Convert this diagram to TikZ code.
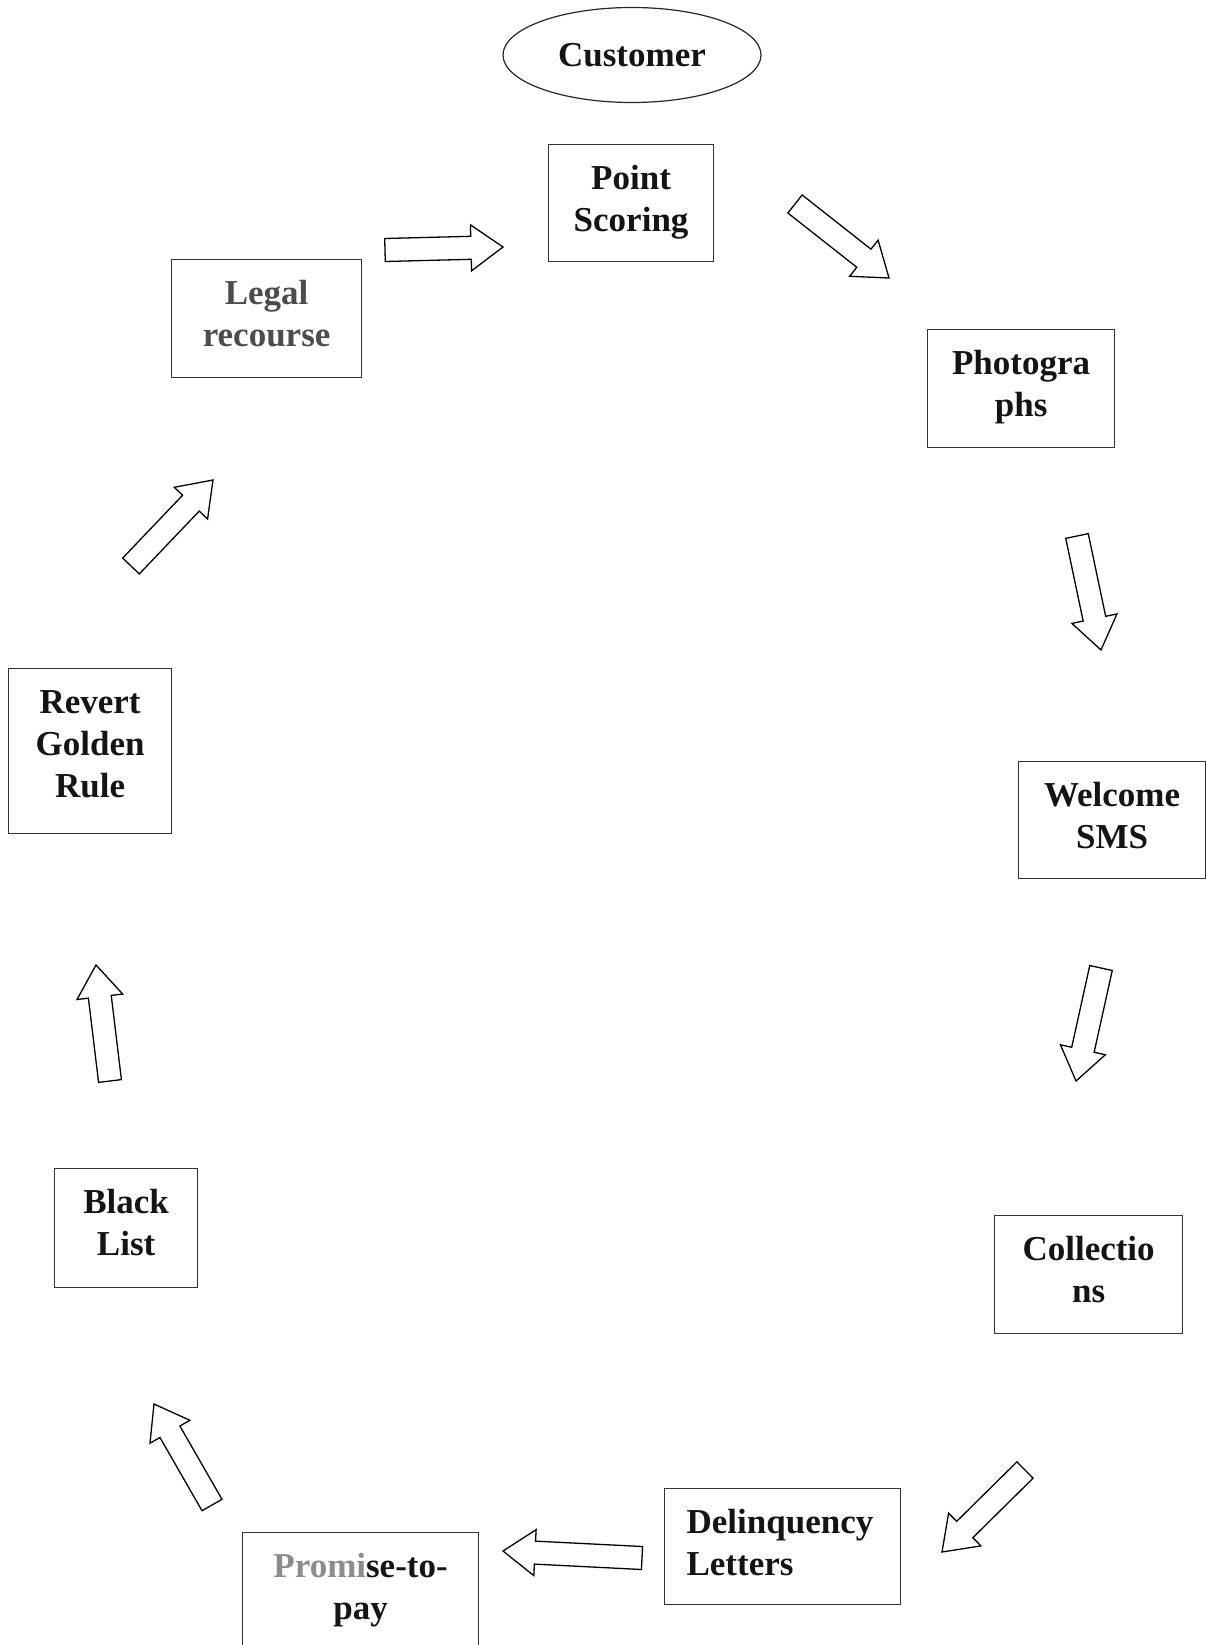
\documentclass[tikz,border=0pt]{standalone}
\usepackage{fontspec}
\setmainfont{Liberation Serif}
\usetikzlibrary{calc,shapes.geometric}
\newcommand{\bxt}[3]{\parbox[t][#2pt][t]{#1pt}{\centering\rule{0pt}{45pt}#3}}
\newcommand{\bxl}[4]{\parbox[t][#2pt][t]{#1pt}{\raggedright\leftskip=#4pt\rule{0pt}{45pt}#3}}
\newcommand{\blockarrow}[2]{%
  \coordinate (ba-h) at ($(#2)!32pt!(#1)$);
  \draw[blockarr] ($(#1)!11.5pt!90:(#2)$) -- ($(ba-h)!11.5pt!90:(#2)$) -- ($(ba-h)!23pt!90:(#2)$) -- (#2)
    -- ($(ba-h)!23pt!-90:(#2)$) -- ($(ba-h)!11.5pt!-90:(#2)$) -- ($(#1)!11.5pt!-90:(#2)$) -- cycle;
}
\tikzset{
  bx/.style={draw=black!80, line width=1.2pt, inner sep=0pt, anchor=north west,
    font=\fontsize{35}{42}\selectfont\bfseries, text=black!92},
  blockarr/.style={draw=black, line width=1.3pt, fill=white, line join=miter},
}
\begin{document}
\begin{tikzpicture}[x=1pt,y=-1pt]
\useasboundingbox (0,0) rectangle (1206,1645);
\clip (0,0) rectangle (1206,1645);
\fill[white] (0,0) rectangle (1206,1645);

% nodes
\node[ellipse, draw=black!85, line width=1.2pt, minimum width=258pt, minimum height=95pt, inner sep=0pt,
  font=\fontsize{35}{42}\selectfont\bfseries, text=black!92] (cust) at (632,55) {Customer};
\node[bx] (pscore)  at (548,144)  {\bxt{165}{117}{Point\\Scoring}};
\node[bx] (legal)   at (171,259)  {\bxt{190}{118}{\color{black!70}Legal\\recourse}};
\node[bx] (photo)   at (927,329)  {\bxt{187}{118}{Photogra\\phs}};
\node[bx] (welcome) at (1018,761) {\bxt{187}{117}{Welcome\\SMS}};
\node[bx] (collect) at (994,1215) {\bxt{188}{118}{Collectio\\ns}};
\node[bx] (delinq)  at (664,1488) {\bxl{236}{116}{Delinquency\\Letters}{22}};
\node[bx] (promise) at (242,1532) {\bxt{236}{130}{\textcolor{black!45}{Promi}se-to-\\pay}};
\node[bx] (black)   at (54,1168)  {\bxt{143}{119}{Black\\List}};
\node[bx] (revert)  at (8,668)    {\bxt{163}{165}{Revert\\Golden\\Rule}};

% arrow end points
\coordinate (a1t) at (385,250);  \coordinate (a1h) at (503,247);
\coordinate (a2t) at (795,204);  \coordinate (a2h) at (889,278);
\coordinate (a3t) at (1077,536); \coordinate (a3h) at (1101,650);
\coordinate (a4t) at (1101,968); \coordinate (a4h) at (1076,1081);
\coordinate (a5t) at (1025,1470);\coordinate (a5h) at (942,1552);
\coordinate (a6t) at (642,1558); \coordinate (a6h) at (503,1551);
\coordinate (a7t) at (212,1505); \coordinate (a7h) at (154,1404);
\coordinate (a8t) at (110,1081); \coordinate (a8h) at (96,965);
\coordinate (a9t) at (131,566);  \coordinate (a9h) at (213,480);

\blockarrow{a1t}{a1h}
\blockarrow{a2t}{a2h}
\blockarrow{a3t}{a3h}
\blockarrow{a4t}{a4h}
\blockarrow{a5t}{a5h}
\blockarrow{a6t}{a6h}
\blockarrow{a7t}{a7h}
\blockarrow{a8t}{a8h}
\blockarrow{a9t}{a9h}
\end{tikzpicture}
\end{document}
